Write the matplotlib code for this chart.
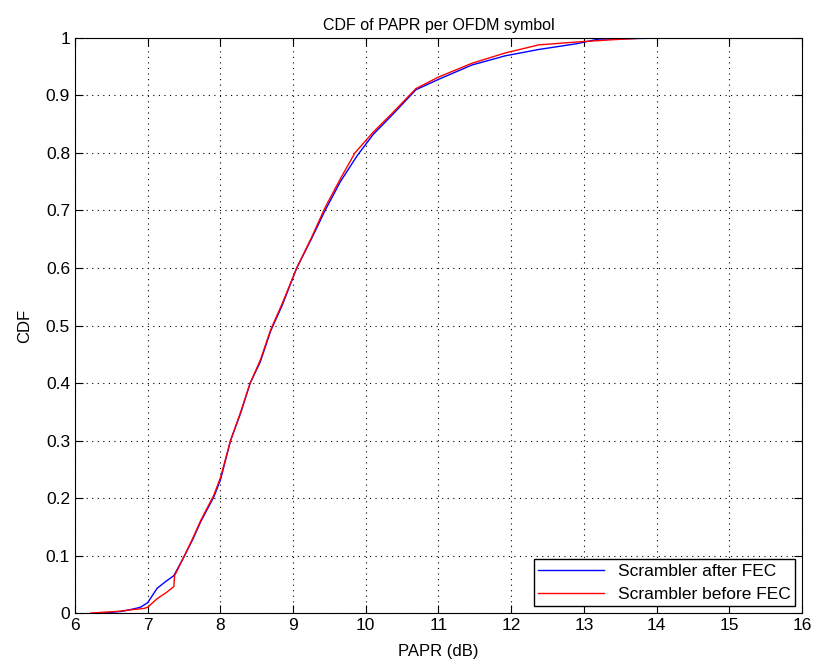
import numpy as np
import matplotlib.pyplot as plt

plt.rcParams['font.family'] = ['Liberation Sans', 'DejaVu Sans']

# Scrambler after FEC (blue)
after_x = [6.4, 6.65, 6.8, 6.9, 7.0, 7.13, 7.25, 7.36, 7.5, 7.62, 7.73, 7.91, 8.0,
           8.14, 8.28, 8.41, 8.55, 8.69, 8.85, 9.05, 9.25, 9.44, 9.65, 9.88, 10.1,
           10.37, 10.69, 11.0, 11.46, 11.92, 12.38, 12.9, 13.2, 14.18]
after_y = [0.0, 0.003, 0.007, 0.01, 0.018, 0.043, 0.055, 0.065, 0.098, 0.128, 0.159, 0.202, 0.231,
           0.30, 0.348, 0.40, 0.437, 0.49, 0.535, 0.60, 0.65, 0.70, 0.75, 0.795, 0.832,
           0.867, 0.91, 0.928, 0.953, 0.969, 0.98, 0.99, 0.998, 1.0]

# Scrambler before FEC (red)
before_x = [6.22, 6.6, 6.8, 6.95, 7.0, 7.13, 7.25, 7.36, 7.37, 7.5, 7.62, 7.73, 7.91, 8.0,
            8.14, 8.28, 8.41, 8.55, 8.69, 8.85, 9.05, 9.25, 9.44, 9.65, 9.85, 10.1,
            10.37, 10.69, 11.0, 11.46, 11.92, 12.38, 12.9, 13.4, 13.84]
before_y = [0.0, 0.003, 0.006, 0.008, 0.01, 0.025, 0.035, 0.046, 0.065, 0.098, 0.13, 0.161, 0.205, 0.235,
            0.30, 0.35, 0.40, 0.44, 0.492, 0.538, 0.60, 0.652, 0.705, 0.755, 0.80, 0.836,
            0.87, 0.912, 0.932, 0.956, 0.974, 0.988, 0.993, 0.997, 1.0]

fig = plt.figure(figsize=(8.15, 6.71), dpi=100)
ax = fig.add_axes([0.092, 0.0864, 0.892, 0.857])
ax.plot(after_x, after_y, color='blue', lw=1, label='Scrambler after FEC')
ax.plot(before_x, before_y, color='red', lw=1, label='Scrambler before FEC')

ax.set_xlim(6, 16)
ax.set_ylim(0, 1)
ax.set_xticks(np.arange(6, 17, 1))
ax.set_yticks(np.arange(0, 1.01, 0.1))
ax.set_yticklabels(['0', '0.1', '0.2', '0.3', '0.4', '0.5', '0.6', '0.7', '0.8', '0.9', '1'])
ax.tick_params(direction='in', top=True, right=True, labelsize=12.5, length=6)
ax.grid(True, color='black', linestyle=(0, (1, 4)), linewidth=0.8)
ax.set_xlabel('PAPR (dB)', fontsize=12, labelpad=8)
ax.set_ylabel('CDF', fontsize=12, labelpad=10)
ax.set_title('CDF of PAPR per OFDM symbol', fontsize=11.5)
leg = ax.legend(loc='lower right', fontsize=12.5, fancybox=False, edgecolor='black',
                framealpha=1, borderaxespad=0.4, handlelength=3.8, borderpad=0.25,
                labelspacing=0.45)
leg.get_frame().set_linewidth(1)
fig.savefig('out.png')
